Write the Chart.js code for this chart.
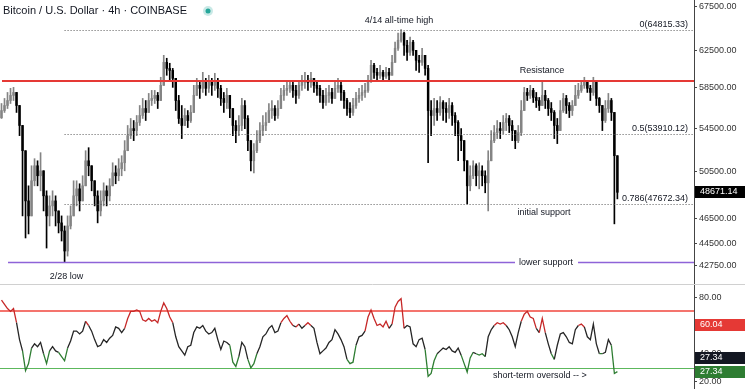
<!DOCTYPE html>
<html>
<head>
<meta charset="utf-8">
<script src="https://cdn.jsdelivr.net/npm/chart.js@4.4.0/dist/chart.umd.min.js"></script>
<style>
html, body { margin: 0; padding: 0; background: #fff; }
#wrap { position: relative; width: 745px; height: 389px; overflow: hidden; }
#price { position: absolute; left: 0; top: 0; }
#rsi { position: absolute; left: 0; top: 285px; }
</style>
</head>
<body>
<div id="wrap">
  <canvas id="price" width="745" height="285"></canvas>
  <canvas id="rsi" width="745" height="104"></canvas>
</div>
<script>
// BTC/USD 4h (one candle per ~3px)
const firstOpen = 55500;
const closes = [
  56210,56710,57210,57730,58030,56710,54750,52370,47940,46690,
  49670,51000,50110,50550,48370,46690,47520,47940,47100,46120,
  45470,43890,45870,46690,48370,48970,47940,49230,51450,51000,
  49670,48370,47100,47940,48800,48370,49230,50370,50110,50730,
  51270,52370,53780,54450,54260,55040,55720,56410,56020,57210,
  57420,57730,57210,58760,61190,60540,60330,59490,57210,55430,
  54750,55720,55230,56020,57730,58760,58450,59280,58450,59070,
  58760,59280,58450,57420,57010,57730,56410,54750,54260,54750,
  56710,55430,53310,51450,52370,53310,54260,54750,55040,56210,
  56410,55720,56410,57730,58240,58450,58760,58240,57730,58760,
  59070,59280,59070,59490,58760,58450,57730,57010,57730,58030,
  57420,58450,58760,58030,57210,56410,56020,56710,57420,57730,
  58030,58240,59280,60870,60120,59810,60120,59700,60120,59810,
  61190,62730,63620,64420,63060,62280,63400,62500,61410,61190,
  61950,60540,56210,55720,56410,56020,57010,56410,56020,56710,
  55720,55040,53780,53310,51450,49230,50110,51000,50110,50550,
  50110,49490,51450,53310,54070,54450,54260,55040,55430,54750,
  54260,53310,54070,56210,58030,57730,58240,57520,57210,56710,
  57730,57210,56410,56020,54750,54260,56210,57420,56710,56210,
  56710,57730,58240,58760,59070,58450,58030,59070,57420,56710,
  55230,56410,57210,56020,51910,48671.14
];
const highs = [
  56910,57420,58030,58450,58550,57730,56710,54750,52370,49230,
  51000,51640,51450,52190,50550,48800,48370,48800,48370,47100,
  46690,45870,46690,47520,49670,49670,49410,50110,52370,52650,
  51000,49670,48800,48800,49490,49230,49850,51270,51000,51640,
  51910,53310,54750,55430,55230,55720,56710,57420,57210,57930,
  58240,58240,58030,59600,61950,61630,61090,60540,58760,57730,
  56710,56410,56210,56710,58760,59490,59280,60120,59490,59810,
  59490,60020,59490,58760,58030,58450,57730,56210,55230,55720,
  57420,57210,55720,53310,53030,54260,55040,55720,56020,56910,
  57210,56710,57210,58450,58760,59070,59280,59070,58760,59280,
  59810,60120,59810,60120,59490,59280,58760,58240,58450,58760,
  58450,59280,59490,59070,58240,57420,57010,57420,58030,58450,
  58760,58970,59810,61410,61090,60540,60870,60330,60650,60540,
  61950,63400,64420,64815,64530,63620,63960,63620,62500,61950,
  62730,61950,60870,57210,57420,57210,57620,57210,57010,57420,
  57010,56020,55230,54450,53310,51450,51000,51450,51180,51270,
  51000,50550,52370,54260,54750,55230,55040,55720,55920,55720,
  55230,54260,54750,57210,58550,58450,58760,58450,58030,57520,
  59070,58240,57420,57010,56210,55430,57210,57930,57730,57010,
  57210,58760,58970,59280,59600,59280,58760,59600,58760,57520,
  56710,57210,57930,57420,56020,51450
];
const lows = [
  55430,56020,56410,56910,57210,56020,53780,46690,44910,45230,
  46690,49230,49230,48800,47100,44120,45870,46690,45870,45310,
  44670,43005,43500,45630,47100,47520,47100,47940,49230,50110,
  48800,47520,46120,46690,47520,47520,47940,49230,49410,49670,
  50110,50550,52370,53500,53310,53780,54750,55430,55230,56210,
  56710,56910,56410,57420,59280,59810,59280,58550,56210,54940,
  53500,54750,54550,55040,56210,57730,57420,58030,57730,58030,
  57730,58240,57520,56710,56020,56410,55520,53780,53120,53780,
  54260,54450,52370,50550,50370,52190,53120,53780,54260,55040,
  55430,55230,55430,56410,57210,57730,58030,57520,56910,57420,
  58240,58450,58240,58550,58030,57730,57010,56410,56710,57010,
  56910,57420,58030,57210,56410,55720,55520,55720,56410,57010,
  57210,57520,58030,59070,59490,59280,59490,59280,59490,59280,
  60120,61410,62500,63400,61950,61410,61950,61950,60330,60120,
  60870,59810,51270,53780,54750,55230,55720,55230,55040,55430,
  54750,53780,51450,52370,50550,47690,48800,49850,49230,48970,
  49230,48630,47100,51450,53120,53500,53500,53970,54260,54070,
  53310,52560,53120,53780,56210,57210,57420,57010,56510,56210,
  56710,56410,55720,55230,53500,53030,54450,56020,55920,55520,
  55720,57010,57420,58030,58450,58030,57210,57730,56710,56020,
  54260,55040,56020,55230,46040,48110
];
const rsi = [
  78,75,72,70,72,62,50,42,28,33,
  44,47,45,48,40,33,42,45,42,41,
  38,35,44,49,56,56,54,56,63,60,
  56,50,45,46,50,48,51,53,59,58,
  55,58,65,70,70,71,70,64,63,65,
  63,64,62,70,76,72,66,62,52,45,
  42,39,45,46,55,59,58,60,56,54,
  55,58,50,43,49,48,46,34,31,38,
  48,45,36,30,33,40,45,52,54,58,
  60,55,56,62,65,67,63,60,59,61,
  58,60,62,60,58,48,40,42,44,48,
  50,57,54,50,45,36,33,34,46,52,
  53,56,66,71,65,60,61,59,63,58,
  61,73,77,79,58,60,59,47,45,50,
  51,43,24,26,35,40,42,44,43,45,
  42,41,44,39,33,27,37,41,40,39,
  40,38,52,57,60,62,61,62,60,57,
  52,45,55,63,68,70,66,65,58,55,
  65,55,47,40,36,46,54,55,52,48,
  47,57,60,61,59,52,50,61,47,40,
  40,41,50,46,26,27.34
];
const lastPrice = 48671.14;
const priceTicks = [42750, 44500, 46500, 50500, 54500, 58500, 62500, 67500];
const rsiTicks = [20, 40, 60, 80];
const fibLevels = [
  { value: 64815.33, text: '0(64815.33)' },
  { value: 53910.12, text: '0.5(53910.12)' },
  { value: 47672.34, text: '0.786(47672.34)' }
];
const resistance = 59200;
const lowerSupport = 43060;
const rsiUpper = 70, rsiLower = 30;
const rsiMa = 60.04;
const lowIndex = 21, athIndex = 133;

const N = 231; // slots incl. empty space on the right
const labels = Array.from({ length: N }, (_, i) => i);
const opens = closes.map((c, i) => i === 0 ? firstOpen : closes[i - 1]);
const body = closes.map((c, i) => [opens[i], c]);
const wick = closes.map((c, i) => [Math.min(lows[i], opens[i], c), Math.max(highs[i], opens[i], c)]);
const colors = closes.map((c, i) => c >= opens[i] ? '#848484' : '#000000');

Chart.defaults.font.family = '"Liberation Sans", Arial, sans-serif';
Chart.defaults.animation = false;

const FONT = '9px "Liberation Sans", Arial, sans-serif';
function hline(ctx, x1, x2, y) {
  ctx.beginPath(); ctx.moveTo(x1, y); ctx.lineTo(x2, y); ctx.stroke();
}
function label(ctx, text, x, y, align) {
  ctx.font = FONT; ctx.fillStyle = '#131722';
  ctx.textAlign = align || 'center'; ctx.textBaseline = 'middle';
  ctx.fillText(text, x, y);
}
function axisBox(ctx, text, x, y, bg) {
  ctx.fillStyle = bg;
  ctx.fillRect(x, Math.round(y) - 6, 51, 12);
  ctx.font = FONT; ctx.fillStyle = '#fff';
  ctx.textAlign = 'left'; ctx.textBaseline = 'middle';
  ctx.fillText(text, x + 5, Math.round(y));
}

const priceOverlay = {
  id: 'priceOverlay',
  afterDatasetsDraw(chart) {
    const { ctx, chartArea: a, scales: { x, y } } = chart;
    const py = v => Math.round(y.getPixelForValue(v)) + 0.5;
    ctx.save();
    // fib levels
    ctx.strokeStyle = '#5a5a5a'; ctx.lineWidth = 1; ctx.setLineDash([1, 2]);
    const fx = x.getPixelForValue(lowIndex);
    fibLevels.forEach(f => {
      hline(ctx, fx, a.right, py(f.value));
      label(ctx, f.text, a.right - 6, py(f.value) - 6, 'right');
    });
    ctx.setLineDash([]);
    // resistance
    ctx.strokeStyle = '#e53935'; ctx.lineWidth = 2;
    hline(ctx, a.left + 2, a.right, py(resistance) - 0.5);
    label(ctx, 'Resistance', 542, py(resistance) - 11);
    // lower support
    ctx.strokeStyle = '#8e63d8'; ctx.lineWidth = 1.5;
    hline(ctx, a.left + 8, 515, py(lowerSupport));
    hline(ctx, 578, a.right, py(lowerSupport));
    label(ctx, 'lower support', 546, py(lowerSupport));
    label(ctx, 'initial support', 544, py(fibLevels[2].value) + 8);
    label(ctx, '2/28 low', x.getPixelForValue(lowIndex) + 2, py(lowerSupport) + 14);
    label(ctx, '4/14 all-time high', x.getPixelForValue(athIndex) - 2, py(fibLevels[0].value) - 10);
    // title
    ctx.font = '11px "Liberation Sans", Arial, sans-serif';
    ctx.fillStyle = '#131722'; ctx.textAlign = 'left'; ctx.textBaseline = 'middle';
    ctx.fillText('Bitcoin / U.S. Dollar \u00b7 4h \u00b7 COINBASE', 3, 11);
    ctx.fillStyle = 'rgba(38,166,154,0.25)';
    ctx.beginPath(); ctx.arc(208, 11, 5, 0, Math.PI * 2); ctx.fill();
    ctx.fillStyle = '#26a69a';
    ctx.beginPath(); ctx.arc(208, 11, 2.5, 0, Math.PI * 2); ctx.fill();
    ctx.restore();
  },
  afterDraw(chart) {
    const { ctx, chartArea: a, scales: { y } } = chart;
    ctx.save();
    axisBox(ctx, lastPrice.toFixed(2), a.right + 1, y.getPixelForValue(lastPrice), '#000');
    ctx.strokeStyle = '#d0d0d0'; ctx.lineWidth = 1;
    hline(ctx, 0, 745, 284.5);
    ctx.restore();
  }
};

const rsiOverlay = {
  id: 'rsiOverlay',
  beforeDatasetsDraw(chart) {
    const { ctx, chartArea: a, scales: { y } } = chart;
    ctx.save();
    ctx.lineWidth = 1.5;
    ctx.strokeStyle = 'rgb(240, 70, 60)';
    hline(ctx, a.left, a.right, Math.round(y.getPixelForValue(rsiUpper)));
    ctx.lineWidth = 1;
    ctx.strokeStyle = '#5cb85c';
    hline(ctx, a.left, a.right, Math.round(y.getPixelForValue(rsiLower)) + 0.5);
    ctx.restore();
  },
  afterDraw(chart) {
    const { ctx, chartArea: a, scales: { y } } = chart;
    const last = rsi[rsi.length - 1];
    ctx.save();
    label(ctx, 'short-term oversold -- >', 493, 91, 'left');
    axisBox(ctx, rsiMa.toFixed(2), a.right + 1, y.getPixelForValue(rsiMa), '#e53935');
    axisBox(ctx, last.toFixed(2), a.right + 1, y.getPixelForValue(last) - 14, '#131722');
    axisBox(ctx, last.toFixed(2), a.right + 1, y.getPixelForValue(last), '#2e7d32');
    ctx.restore();
  }
};

function rightAxis(ticksList, fmt) {
  return {
    position: 'right',
    afterBuildTicks: s => { s.ticks = ticksList.map(v => ({ value: v })); },
    afterFit: s => { s.width = 51; s.paddingTop = 0; s.paddingBottom = 0; },
    ticks: { callback: fmt, color: '#333', font: { size: 9 }, padding: 2, autoSkip: false },
    grid: { drawOnChartArea: false, tickLength: 3, color: '#444' },
    border: { color: '#444' }
  };
}

new Chart(document.getElementById('price'), {
  type: 'bar',
  data: {
    labels: labels,
    datasets: [
      { data: body, backgroundColor: colors, barThickness: 1.8, grouped: false, minBarLength: 1 },
      { data: wick, backgroundColor: colors, barThickness: 1, grouped: false }
    ]
  },
  options: {
    responsive: false,
    layout: { padding: 0, autoPadding: false },
    plugins: { legend: { display: false }, tooltip: { enabled: false } },
    scales: {
      x: { display: false, offset: true },
      y: Object.assign(rightAxis(priceTicks, v => Number(v).toFixed(2)), {
        type: 'logarithmic', min: 41340, max: 68290, bounds: 'data'
      })
    }
  },
  plugins: [priceOverlay]
});

new Chart(document.getElementById('rsi'), {
  type: 'line',
  data: {
    labels: labels,
    datasets: [{
      data: rsi, borderColor: '#262626', borderWidth: 1.3, pointRadius: 0, tension: 0,
      segment: {
        borderColor: c => {
          const m = (c.p0.parsed.y + c.p1.parsed.y) / 2;
          return m >= 60 ? '#c62828' : (m <= 40 ? '#2e7d32' : '#262626');
        }
      }
    }]
  },
  options: {
    responsive: false,
    layout: { padding: 0, autoPadding: false },
    plugins: { legend: { display: false }, tooltip: { enabled: false } },
    scales: {
      x: { display: false, offset: true },
      y: Object.assign(rightAxis(rsiTicks, v => Number(v).toFixed(2)), { min: 15, max: 88.7 })
    }
  },
  plugins: [rsiOverlay]
});
</script>
</body>
</html>
